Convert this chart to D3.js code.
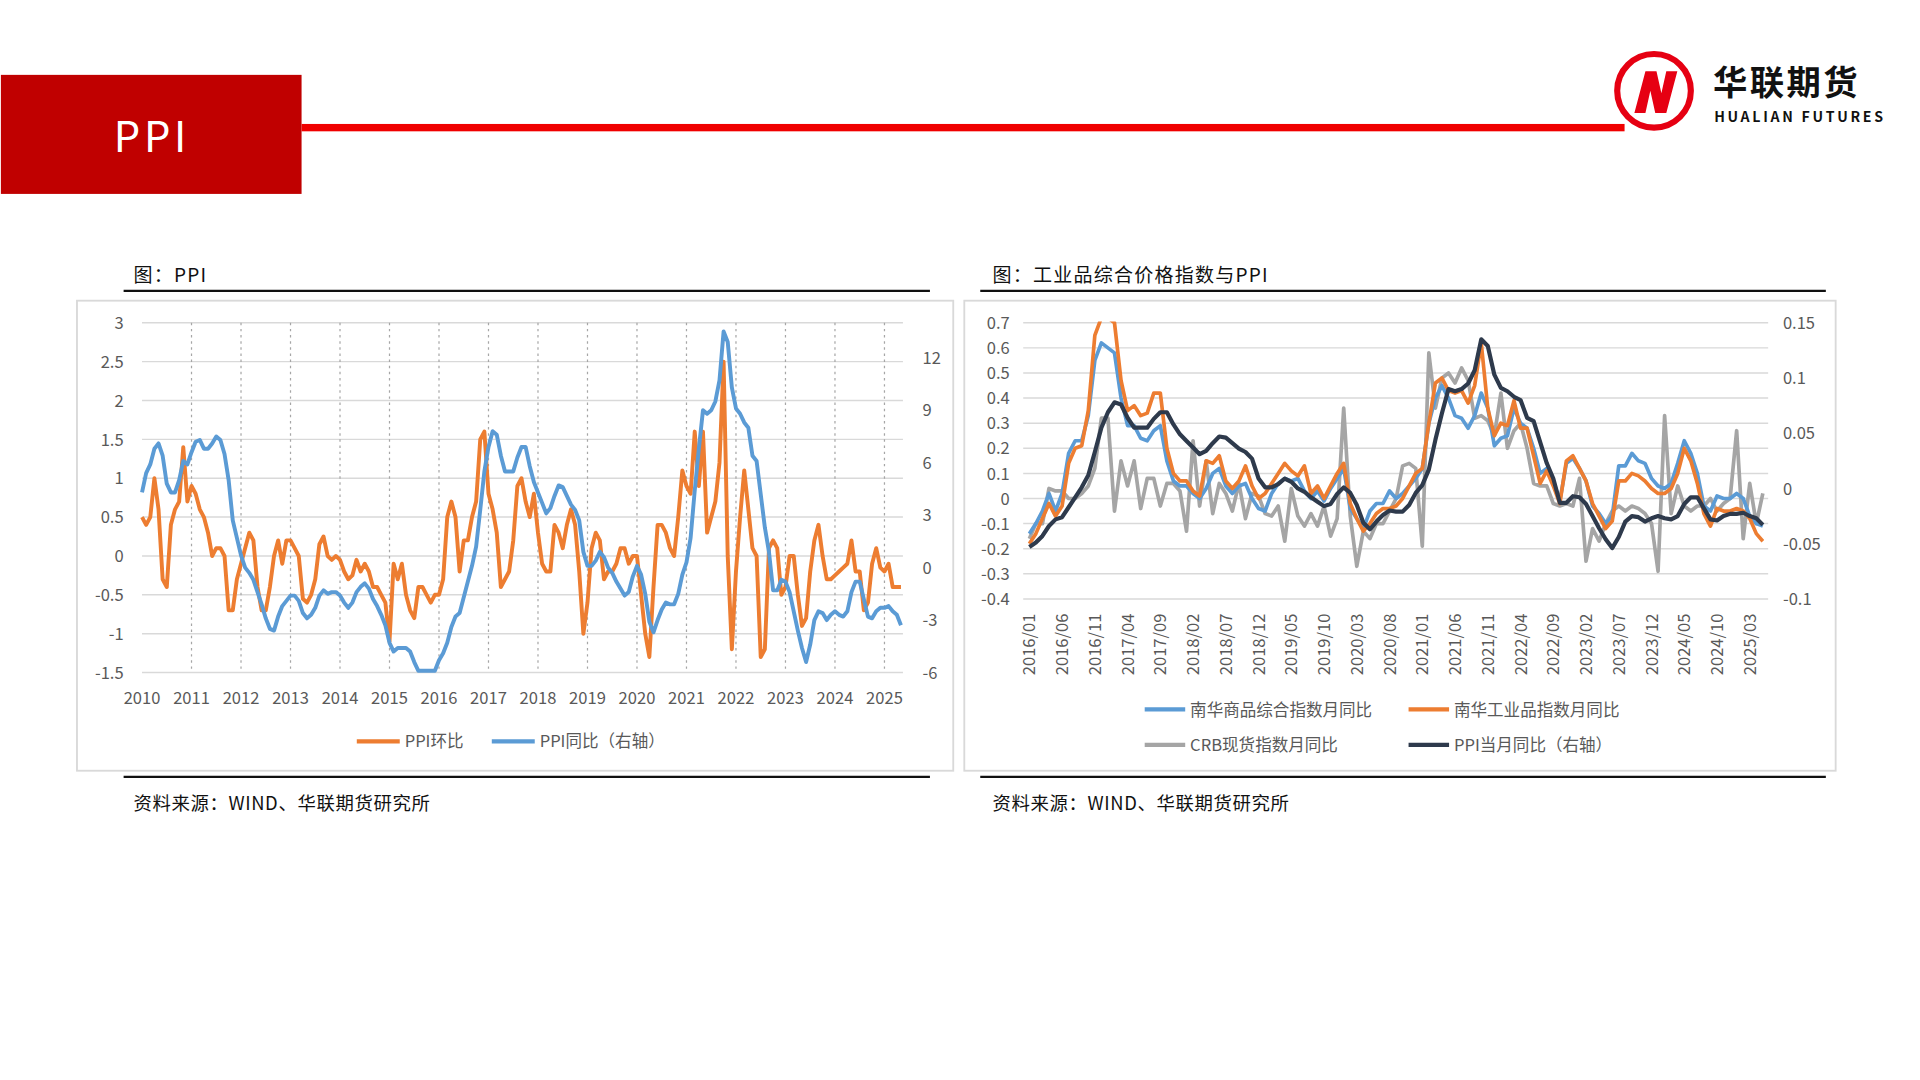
<!DOCTYPE html>
<html><head><meta charset="utf-8">
<script src="https://cdn.jsdelivr.net/npm/d3@7/dist/d3.min.js"></script>
<style>body{margin:0;background:#fff}svg{display:block}text{font-family:"Noto Sans CJK SC","Liberation Sans",sans-serif}</style>
</head><body><svg id="c" width="1920" height="1080" viewBox="0 0 1563 880"></svg>
<script>
// ---------- Left chart data (monthly, 2010/01 - 2025/05) ----------
const leftYears = ["2010","2011","2012","2013","2014","2015","2016","2017","2018","2019","2020","2021","2022","2023","2024","2025"];
const ppiMoM = [
0.5,0.4,0.5,1.0,0.6,-0.3,-0.4,0.4,0.6,0.7,1.4,0.7,
0.9,0.8,0.6,0.5,0.3,0.0,0.1,0.1,0.0,-0.7,-0.7,-0.3,
-0.1,0.1,0.3,0.2,-0.4,-0.7,-0.7,-0.4,0.0,0.2,-0.1,0.2,
0.2,0.1,0.0,-0.55,-0.6,-0.5,-0.3,0.15,0.25,0.0,-0.05,0.0,
-0.05,-0.2,-0.3,-0.25,-0.05,-0.2,-0.1,-0.2,-0.4,-0.4,-0.5,-0.6,
-1.1,-0.1,-0.3,-0.1,-0.5,-0.7,-0.8,-0.4,-0.4,-0.5,-0.6,-0.5,
-0.5,-0.3,0.5,0.7,0.5,-0.2,0.2,0.2,0.5,0.7,1.5,1.6,
0.8,0.6,0.3,-0.4,-0.3,-0.2,0.2,0.9,1.0,0.7,0.5,0.8,
0.3,-0.1,-0.2,-0.2,0.4,0.3,0.1,0.4,0.6,0.4,-0.2,-1.0,
-0.6,0.1,0.3,0.2,-0.3,-0.2,-0.2,-0.1,0.1,0.1,-0.1,0.0,
0.0,-0.5,-1.0,-1.3,-0.4,0.4,0.4,0.3,0.1,0.0,0.5,1.1,
0.9,0.8,1.6,0.9,1.6,0.3,0.5,0.7,1.2,2.5,0.0,-1.2,
-0.2,0.5,1.1,0.6,0.1,0.0,-1.3,-1.2,0.1,0.2,0.1,-0.5,
-0.4,0.0,0.0,-0.5,-0.9,-0.8,-0.2,0.2,0.4,0.0,-0.3,-0.3,
-0.25,-0.2,-0.15,-0.1,0.2,-0.2,-0.2,-0.7,-0.6,-0.1,0.1,-0.15,
-0.2,-0.1,-0.4,-0.4,-0.4];
const ppiYoY = [
4.3,5.4,5.9,6.8,7.1,6.4,4.8,4.3,4.3,5.0,6.1,5.9,
6.6,7.2,7.3,6.8,6.8,7.1,7.5,7.3,6.5,5.0,2.7,1.7,
0.7,0.0,-0.3,-0.7,-1.4,-2.1,-2.9,-3.5,-3.6,-2.8,-2.2,-1.9,
-1.6,-1.6,-1.9,-2.6,-2.9,-2.7,-2.3,-1.6,-1.3,-1.5,-1.4,-1.4,
-1.6,-2.0,-2.3,-2.0,-1.4,-1.1,-0.9,-1.2,-1.8,-2.2,-2.7,-3.3,
-4.3,-4.8,-4.6,-4.6,-4.6,-4.8,-5.4,-5.9,-5.9,-5.9,-5.9,-5.9,
-5.3,-4.9,-4.3,-3.4,-2.8,-2.6,-1.7,-0.8,0.1,1.2,3.3,5.5,
6.9,7.8,7.6,6.4,5.5,5.5,5.5,6.3,6.9,6.9,5.8,4.9,
4.3,3.7,3.1,3.4,4.1,4.7,4.6,4.1,3.6,3.3,2.7,0.9,
0.1,0.1,0.4,0.9,0.6,0.0,-0.3,-0.8,-1.2,-1.6,-1.4,-0.5,
0.1,-0.4,-1.5,-3.1,-3.7,-3.0,-2.4,-2.0,-2.1,-2.1,-1.5,-0.4,
0.3,1.7,4.4,6.8,9.0,8.8,9.0,9.5,10.7,13.5,12.9,10.3,
9.1,8.8,8.3,8.0,6.4,6.1,4.2,2.3,0.9,-1.3,-1.3,-0.7,
-0.8,-1.4,-2.5,-3.6,-4.6,-5.4,-4.4,-3.0,-2.5,-2.6,-3.0,-2.7,
-2.5,-2.7,-2.8,-2.5,-1.4,-0.8,-0.8,-1.8,-2.8,-2.9,-2.5,-2.3,
-2.3,-2.2,-2.5,-2.7,-3.3];
const leftTicks = [3,2.5,2,1.5,1,0.5,0,-0.5,-1,-1.5];
const rightTicksL = [12,9,6,3,0,-3,-6];

// ---------- Right chart data (monthly, 2016/01 - 2025/05) ----------
const nhComposite = [
-0.14,-0.1,-0.05,0.02,-0.05,0.02,0.18,0.23,0.23,0.33,0.55,0.62,
0.6,0.58,0.4,0.29,0.29,0.24,0.23,0.27,0.29,0.15,0.07,0.05,
0.05,0.02,0.0,0.04,0.1,0.12,0.05,0.02,0.05,0.06,0.0,-0.04,
-0.05,0.02,0.06,0.08,0.07,0.08,0.03,0.0,0.03,-0.01,0.04,0.08,
0.12,-0.04,-0.08,-0.12,-0.05,-0.02,-0.02,0.03,0.0,0.02,0.05,0.08,
0.12,0.3,0.4,0.45,0.4,0.33,0.32,0.28,0.33,0.42,0.36,0.21,
0.24,0.25,0.36,0.3,0.28,0.2,0.1,0.12,0.07,-0.01,0.14,0.16,
0.12,0.07,-0.03,-0.06,-0.1,-0.07,0.13,0.13,0.18,0.15,0.14,0.08,
0.05,0.04,0.06,0.14,0.23,0.18,0.1,-0.03,-0.05,0.01,0.0,0.0,
0.02,0.0,-0.07,-0.1,-0.11];
const nhIndustrial = [
-0.18,-0.14,-0.08,-0.02,-0.07,-0.03,0.14,0.2,0.21,0.35,0.65,0.72,
0.72,0.7,0.47,0.35,0.37,0.33,0.34,0.42,0.42,0.2,0.1,0.07,
0.07,0.03,0.01,0.15,0.14,0.17,0.07,0.04,0.07,0.13,0.05,0.0,
0.02,0.06,0.1,0.14,0.11,0.09,0.13,0.02,0.05,0.0,0.05,0.1,
0.14,-0.02,-0.08,-0.13,-0.1,-0.06,-0.04,-0.04,-0.03,0.0,0.05,0.1,
0.12,0.3,0.46,0.48,0.43,0.42,0.43,0.38,0.45,0.62,0.36,0.25,
0.3,0.29,0.39,0.28,0.28,0.17,0.06,0.11,0.05,-0.02,0.15,0.17,
0.12,0.07,-0.02,-0.07,-0.12,-0.09,0.07,0.07,0.1,0.09,0.07,0.04,
0.02,0.02,0.04,0.1,0.2,0.15,0.06,-0.06,-0.11,-0.04,-0.05,-0.05,
-0.04,-0.05,-0.08,-0.14,-0.17];
const crbSpot = [
-0.16,-0.1,-0.1,0.04,0.03,0.03,0.0,0.0,0.02,0.05,0.12,0.32,
0.32,-0.05,0.15,0.05,0.15,-0.04,0.08,0.08,-0.03,0.06,0.06,0.03,
-0.13,0.23,-0.03,0.15,-0.06,0.06,0.02,-0.05,0.06,-0.08,0.02,0.01,
-0.06,-0.07,-0.03,-0.17,0.04,-0.07,-0.11,-0.06,-0.11,-0.03,-0.15,-0.08,
0.36,-0.07,-0.27,-0.13,-0.16,-0.1,-0.1,-0.05,0.0,0.13,0.14,0.12,
-0.19,0.58,0.36,0.48,0.5,0.46,0.52,0.47,0.32,0.33,0.31,0.25,
0.42,0.2,0.27,0.3,0.2,0.06,0.05,0.05,-0.02,-0.03,-0.02,-0.03,
0.08,-0.25,-0.12,-0.17,-0.1,-0.05,-0.03,-0.05,-0.03,-0.04,-0.06,-0.1,
-0.29,0.33,-0.06,0.05,-0.03,-0.05,-0.03,-0.03,0.0,-0.05,-0.02,0.0,
0.27,-0.16,0.06,-0.1,0.02];
const xLabelsR = ["2016/01","2016/06","2016/11","2017/04","2017/09","2018/02","2018/07","2018/12","2019/05","2019/10","2020/03","2020/08","2021/01","2021/06","2021/11","2022/04","2022/09","2023/02","2023/07","2023/12","2024/05","2024/10","2025/03"];
const ppiYoYR = ppiYoY.slice(72).map(v => v / 100); // PPI当月同比 2016/01 起
const leftTicksR = [0.7,0.6,0.5,0.4,0.3,0.2,0.1,0,-0.1,-0.2,-0.3,-0.4];
const rightTicksR = [0.15,0.1,0.05,0,-0.05,-0.1];

const C = {blue:"#5B9BD5", orange:"#ED7D31", gray:"#A5A5A5", dark:"#2E3A4C", grid:"#D9D9D9", lab:"#595959"};
const svg = d3.select("#c");

// ---------- Header ----------
svg.append("rect").attr("x",0).attr("y",61).attr("width",245).attr("height",97).attr("fill","#C00000");
svg.append("text").attr("x",92).attr("y",124).attr("fill","#fff").attr("font-size",34).attr("letter-spacing",3).text("PPI");
svg.append("rect").attr("x",245).attr("y",101).attr("width",1078).attr("height",6).attr("fill","#F00000");
const lg = svg.append("g");
lg.append("circle").attr("cx",1347).attr("cy",74).attr("r",30).attr("fill","#fff").attr("stroke","#E60012").attr("stroke-width",5);
lg.append("path").attr("d","M1331,92 L1340,58 L1349,58 L1353,76 L1357,58 L1366,58 L1357,92 L1348,92 L1344,74 L1340,92 Z").attr("fill","#E60012");
lg.append("text").attr("x",1395).attr("y",77).attr("font-size",28).attr("font-weight","bold").attr("fill","#111").attr("letter-spacing",2).text("华联期货");
lg.append("text").attr("x",1396).attr("y",99).attr("font-size",11.5).attr("font-weight","bold").attr("fill","#111").attr("letter-spacing",2.2).text("HUALIAN FUTURES");

// ---------- Frames ----------
function frame(tx, ty, lx1, lx2, bx, bw, title) {
  svg.append("text").attr("x",tx).attr("y",ty).attr("font-size",15.5).attr("fill","#111").attr("letter-spacing",1).text(title);
  svg.append("line").attr("x1",lx1).attr("x2",lx2).attr("y1",237).attr("y2",237).attr("stroke","#111").attr("stroke-width",2);
  svg.append("rect").attr("x",bx).attr("y",245).attr("width",bw).attr("height",383).attr("fill","#fff").attr("stroke","#D9D9D9").attr("stroke-width",1.5);
  svg.append("line").attr("x1",lx1).attr("x2",lx2).attr("y1",633).attr("y2",633).attr("stroke","#111").attr("stroke-width",2);
  svg.append("text").attr("x",tx).attr("y",660).attr("font-size",15).attr("fill","#111").attr("letter-spacing",0.5).text("资料来源：WIND、华联期货研究所");
}
frame(108,230,100,757,62,714,"图：PPI");
frame(808,230,798,1487,785,710,"图：工业品综合价格指数与PPI");

// ---------- Left chart ----------
{
  const n = ppiMoM.length;
  const x = d3.scaleLinear().domain([0, n-1]).range([115, 115 + (n-1)*40.33/12]);
  const y = d3.scaleLinear().domain([-1.5, 3]).range([548, 263]);
  const y2 = d3.scaleLinear().domain([-6, 14]).range([548, 263]);
  const g = svg.append("g");
  g.selectAll(".hg").data(leftTicks).join("line").attr("x1",115).attr("x2",735).attr("y1",d=>y(d)).attr("y2",d=>y(d)).attr("stroke",C.grid).attr("stroke-width",1.2);
  g.selectAll(".vg").data(leftYears.slice(1)).join("line").attr("x1",(d,i)=>x((i+1)*12)).attr("x2",(d,i)=>x((i+1)*12)).attr("y1",263).attr("y2",548).attr("stroke","#A6A6A6").attr("stroke-dasharray","2,3").attr("stroke-width",1);
  g.selectAll(".lt").data(leftTicks).join("text").attr("x",100).attr("y",d=>y(d)+5).attr("text-anchor","end").attr("font-size",13.5).attr("fill",C.lab).text(d=>d);
  g.selectAll(".rt").data(rightTicksL).join("text").attr("x",751).attr("y",d=>y2(d)+5).attr("font-size",13.5).attr("fill",C.lab).text(d=>d);
  g.selectAll(".xt").data(leftYears).join("text").attr("x",(d,i)=>x(i*12)).attr("y",574).attr("text-anchor","middle").attr("font-size",13.5).attr("fill",C.lab).text(d=>d);
  const clip = svg.append("clipPath").attr("id","clipL").append("rect").attr("x",100).attr("y",258).attr("width",650).attr("height",292);
  g.append("path").datum(ppiMoM).attr("clip-path","url(#clipL)").attr("fill","none").attr("stroke",C.orange).attr("stroke-width",3.2).attr("stroke-linejoin","round")
    .attr("d", d3.line().x((d,i)=>x(i)).y(d=>y(d)));
  g.append("path").datum(ppiYoY).attr("clip-path","url(#clipL)").attr("fill","none").attr("stroke",C.blue).attr("stroke-width",3.2).attr("stroke-linejoin","round")
    .attr("d", d3.line().x((d,i)=>x(i)).y(d=>y2(Math.max(d,-6))));
  const leg = [{c:C.orange,t:"PPI环比",x:290},{c:C.blue,t:"PPI同比（右轴）",x:400}];
  leg.forEach(l=>{
    g.append("line").attr("x1",l.x).attr("x2",l.x+35).attr("y1",604).attr("y2",604).attr("stroke",l.c).attr("stroke-width",3.5);
    g.append("text").attr("x",l.x+39).attr("y",609).attr("font-size",13.5).attr("fill",C.lab).text(l.t);
  });
}

// ---------- Right chart ----------
{
  const n = nhComposite.length;
  const x = d3.scaleLinear().domain([0, 110]).range([838, 1425]);
  const y = d3.scaleLinear().domain([-0.4, 0.7]).range([488, 263]);
  const y2 = d3.scaleLinear().domain([-0.1, 0.15]).range([488, 263]);
  const g = svg.append("g");
  g.selectAll(".hg").data(leftTicksR).join("line").attr("x1",833).attr("x2",1440).attr("y1",d=>y(d)).attr("y2",d=>y(d)).attr("stroke",C.grid).attr("stroke-width",1.2);
  g.selectAll(".lt").data(leftTicksR).join("text").attr("x",822).attr("y",d=>y(d)+5).attr("text-anchor","end").attr("font-size",13.5).attr("fill",C.lab).text(d=>d);
  g.selectAll(".rt").data(rightTicksR).join("text").attr("x",1452).attr("y",d=>y2(d)+5).attr("font-size",13.5).attr("fill",C.lab).text(d=>d);
  g.selectAll(".xt").data(xLabelsR).join("text").attr("transform",(d,i)=>`translate(${x(i*5)+5},500) rotate(-90)`).attr("text-anchor","end").attr("font-size",13.5).attr("fill",C.lab).text(d=>d);
  svg.append("clipPath").attr("id","clipR").append("rect").attr("x",830).attr("y",262).attr("width",615).attr("height",230);
  const series = [{d:crbSpot,c:C.gray,s:y,w:3},{d:nhComposite,c:C.blue,s:y,w:3},{d:nhIndustrial,c:C.orange,s:y,w:3},{d:ppiYoYR,c:C.dark,s:y2,w:3.4}];
  series.forEach(sr=>{
    g.append("path").datum(sr.d).attr("clip-path","url(#clipR)").attr("fill","none").attr("stroke",sr.c).attr("stroke-width",sr.w).attr("stroke-linejoin","round")
      .attr("d", d3.line().x((d,i)=>x(i)).y(d=>sr.s(d)));
  });
  const leg = [{c:C.blue,t:"南华商品综合指数月同比",x:932,y:578},{c:C.orange,t:"南华工业品指数月同比",x:1147,y:578},
               {c:C.gray,t:"CRB现货指数月同比",x:932,y:607},{c:C.dark,t:"PPI当月同比（右轴）",x:1147,y:607}];
  leg.forEach(l=>{
    g.append("line").attr("x1",l.x).attr("x2",l.x+33).attr("y1",l.y).attr("y2",l.y).attr("stroke",l.c).attr("stroke-width",3.5);
    g.append("text").attr("x",l.x+37).attr("y",l.y+5).attr("font-size",13.5).attr("fill",C.lab).text(l.t);
  });
}
</script></body></html>
